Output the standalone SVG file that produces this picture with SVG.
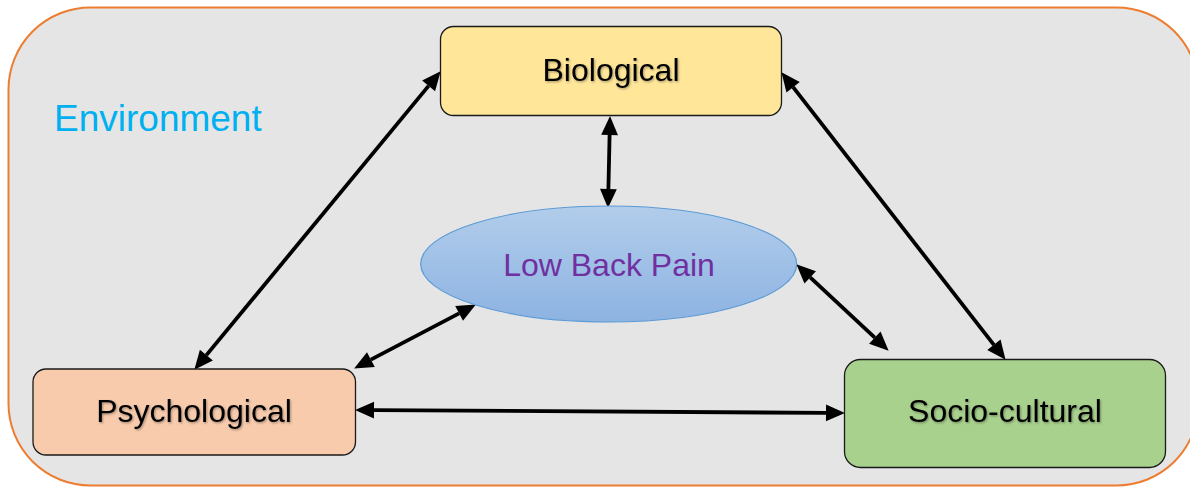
<svg xmlns="http://www.w3.org/2000/svg" width="1190" height="487" viewBox="0 0 1190 487">
  <defs>
    <linearGradient id="ellipseFill" x1="0" y1="0" x2="0" y2="1">
      <stop offset="0" stop-color="#b2cdeb"/>
      <stop offset="1" stop-color="#8db3e2"/>
    </linearGradient>
    <filter id="textShadow" x="-10%" y="-30%" width="120%" height="160%">
      <feDropShadow dx="1" dy="1.2" stdDeviation="0.8" flood-color="#000" flood-opacity="0.35"/>
    </filter>
    <marker id="head" markerUnits="userSpaceOnUse" markerWidth="20" markerHeight="20" refX="0" refY="0" viewBox="0 -9 19 18" orient="auto-start-reverse" overflow="visible">
      <path d="M0,-8 L18,0 L0,8 Z" fill="#000"/>
    </marker>
    <style>
      .box { stroke: #1a1a1a; stroke-width: 1.3; }
      .label { font-family: "Liberation Sans", Arial, sans-serif; font-size: 32px; fill: #000; text-anchor: middle; }
      .link { stroke: #000; stroke-width: 3.8; fill: none; marker-start: url(#head); marker-end: url(#head); }
    </style>
  </defs>

  <rect width="1190" height="487" fill="#ffffff"/>

  <!-- environment frame -->
  <g id="environment">
    <rect x="8.5" y="7.5" width="1190" height="478" rx="82" ry="82" fill="#e5e5e5" stroke="#ed7d31" stroke-width="2"/>
    <text x="54" y="131" font-family="'Liberation Sans', Arial, sans-serif" font-size="37" fill="#00b0f0">Environment</text>
  </g>

  <!-- connectors -->
  <g id="connectors">
    <line class="link" x1="428.6" y1="85.9" x2="206.4" y2="355.1"/>
    <line class="link" x1="609.6" y1="135" x2="608.4" y2="189"/>
    <line class="link" x1="793.1" y1="87.2" x2="993.9" y2="344.8"/>
    <line class="link" x1="459.1" y1="313.4" x2="370.9" y2="359.6"/>
    <line class="link" x1="810.2" y1="277.3" x2="874.8" y2="337.7"/>
    <line class="link" x1="374" y1="410.1" x2="826" y2="412.9"/>
  </g>

  <g id="biological">
    <rect class="box" x="440.5" y="26.5" width="341" height="89" rx="13" fill="#ffe699"/>
    <text class="label" x="611" y="81" filter="url(#textShadow)">Biological</text>
  </g>

  <g id="low-back-pain">
    <ellipse cx="608.7" cy="264" rx="188" ry="58" fill="url(#ellipseFill)" stroke="#5b9bd5" stroke-width="1.2"/>
    <text x="609" y="276" font-family="'Liberation Sans', Arial, sans-serif" font-size="32" fill="#7030a0" text-anchor="middle">Low Back Pain</text>
  </g>

  <g id="psychological">
    <rect class="box" x="33" y="369" width="322.5" height="86" rx="13" fill="#f8cbad"/>
    <text class="label" x="194" y="422" filter="url(#textShadow)">Psychological</text>
  </g>

  <g id="socio-cultural">
    <rect class="box" x="844.5" y="359.5" width="321" height="108" rx="16" fill="#a9d18e"/>
    <text class="label" x="1005" y="422" filter="url(#textShadow)">Socio-cultural</text>
  </g>
</svg>
